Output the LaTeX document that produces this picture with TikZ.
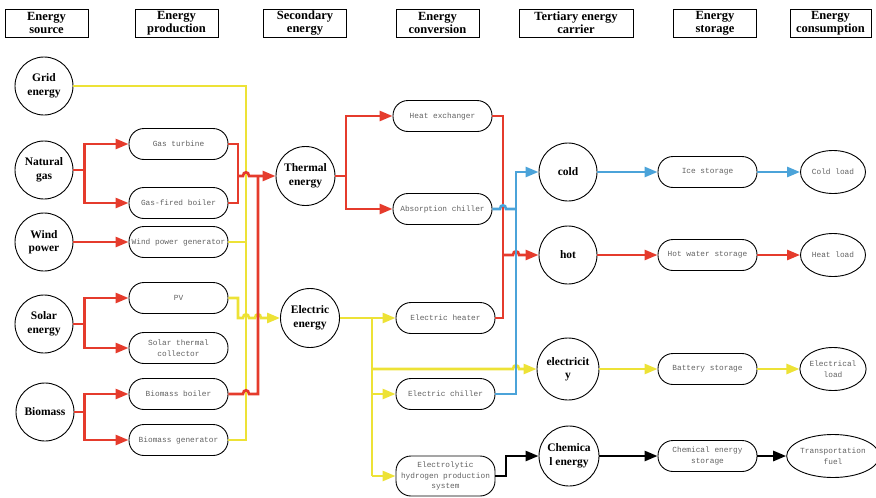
\documentclass[tikz,border=0pt]{standalone}
\usepackage{fontspec}
\setmainfont{Liberation Serif}
\newfontfamily\boxfont{Liberation Mono}
\usetikzlibrary{arrows.meta,shapes.geometric}
\definecolor{cred}{HTML}{E53B2C}
\definecolor{cyel}{HTML}{EDE236}
\definecolor{cblu}{HTML}{4BA3D9}
\begin{document}
\begin{tikzpicture}[x=1pt,y=-1pt,
  hdr/.style={draw, line width=0.8pt, minimum width=83pt, minimum height=28pt, inner sep=0pt,
    font=\fontsize{12.5}{13}\selectfont\bfseries, align=center},
  circ/.style={draw, circle, line width=0.9pt, minimum size=58pt, inner sep=0pt,
    font=\fontsize{11.5}{13.5}\selectfont\bfseries, align=center},
  rbox/.style={draw, rounded corners=15pt, line width=0.9pt, minimum width=99pt, minimum height=31pt,
    inner sep=1pt, font=\boxfont\fontsize{7.8}{10.5}\selectfont, text=black!62, align=center},
  ell/.style={draw, ellipse, line width=0.9pt, minimum width=65pt, minimum height=43pt, inner sep=0pt,
    font=\boxfont\fontsize{7.8}{10.5}\selectfont, text=black!62, align=center},
  tip/.style={-{Triangle[length=13pt,width=10pt]}},
  rl/.style={draw=cred, line width=2.6pt},
  yl/.style={draw=cyel, line width=2.6pt},
  bl/.style={draw=cblu, line width=2.6pt},
  kl/.style={draw=black, line width=2.6pt},
]
\useasboundingbox (0,0) rectangle (876,498);
% headers
\node[hdr] (h1) at (46.5,23) {Energy\\source};
\node[hdr] (h2) at (176.5,23) {Energy\\production};
\node[hdr] (h3) at (305,23) {Secondary\\energy};
\node[hdr] (h4) at (437.5,23) {Energy\\conversion};
\node[hdr, minimum width=114pt] (h5) at (576,23) {Tertiary energy\\carrier};
\node[hdr] (h6) at (715,23) {Energy\\storage};
\node[hdr, minimum width=81pt] (h7) at (830.5,23) {Energy\\consumption};
% sources
\node[circ] (grid) at (44,86) {Grid\\energy};
\node[circ] (ng) at (44,170) {Natural\\gas};
\node[circ] (wind) at (44,242) {Wind\\power};
\node[circ] (solar) at (44,324) {Solar\\energy};
\node[circ] (bio) at (45,412) {Biomass};
% production
\node[rbox] (gt) at (178.5,144) {Gas turbine};
\node[rbox] (gfb) at (178.5,203) {Gas-fired boiler};
\node[rbox] (wpg) at (178.5,242) {Wind power generator};
\node[rbox] (pv) at (178.5,298) {PV};
\node[rbox] (stc) at (178.5,348) {Solar thermal\\collector};
\node[rbox] (bb) at (178.5,394) {Biomass boiler};
\node[rbox] (bg) at (178.5,440) {Biomass generator};
% secondary
\node[circ, minimum size=59pt] (th) at (305.5,176) {Thermal\\energy};
\node[circ, minimum size=59pt] (ee) at (310,318) {Electric\\energy};
% conversion
\node[rbox] (hx) at (442.5,116) {Heat exchanger};
\node[rbox] (ac) at (442.5,209) {Absorption chiller};
\node[rbox] (eh) at (445.5,318) {Electric heater};
\node[rbox] (ec) at (445.5,394) {Electric chiller};
\node[rbox, minimum height=40pt] (ely) at (445.5,476) {Electrolytic\\hydrogen production\\system};
% tertiary
\node[circ] (cold) at (568,172) {cold};
\node[circ] (hot) at (568,255) {hot};
\node[circ, minimum size=62pt] (elec) at (568,369) {electricit\\y};
\node[circ, minimum size=60pt] (chem) at (569,456) {Chemica\\l energy};
% storage
\node[rbox] (ice) at (707.5,172) {Ice storage};
\node[rbox] (hws) at (707.5,255) {Hot water storage};
\node[rbox] (bat) at (707.5,369) {Battery storage};
\node[rbox] (ces) at (707.5,456) {Chemical energy\\storage};
% consumption
\node[ell] (cl) at (833,172) {Cold load};
\node[ell] (hl) at (833,255) {Heat load};
\node[ell] (el) at (833,369) {Electrical\\load};
\node[ell, minimum width=82pt] (tf) at (833,456) {Transportation\\fuel};

% ---- yellow
\draw[yl] (grid.east) -| (246,440) -- (bg.east);
\draw[yl] (wpg.east) -- (246,242);
\draw[yl,tip] (pv.east) -| (238,318) -- (243,318) .. controls (243,313) and (249,313) .. (249,318)
  -- (255,318) .. controls (255,313) and (261,313) .. (261,318) -- (ee.west);
\draw[yl,tip] (ee.east) -- (eh.west);
\draw[yl] (372,318) -- (372,476);
\draw[yl,tip] (372,369) -- (513,369) .. controls (513,364) and (519,364) .. (519,369) -- (elec.west);
\draw[yl,tip] (372,394) -- (ec.west);
\draw[yl,tip] (372,476) -- (ely.west);
\draw[yl,tip] (elec.east) -- (bat.west);
\draw[yl,tip] (bat.east) -- (el.west);

% ---- red
\draw[rl,tip] (ng.east) -- ++(11,0) |- (gt.west);
\draw[rl,tip] (ng.east) -- ++(11,0) |- (gfb.west);
\draw[rl] (gt.east) -| (238,203) -- (gfb.east);
\draw[rl,tip] (238,176) -- (243,176) .. controls (243,171) and (249,171) .. (249,176) -- (th.west);
\draw[rl] (bb.east) -- (243,394) .. controls (243,389) and (249,389) .. (249,394) -- (258,394) -- (258,176);
\draw[rl,tip] (wind.east) -- (wpg.west);
\draw[rl,tip] (solar.east) -- ++(11,0) |- (pv.west);
\draw[rl,tip] (solar.east) -- ++(11,0) |- (stc.west);
\draw[rl,tip] (bio.east) -- ++(10,0) |- (bb.west);
\draw[rl,tip] (bio.east) -- ++(10,0) |- (bg.west);
\draw[rl,tip] (th.east) -- (346,176) |- (hx.west);
\draw[rl,tip] (346,176) |- (ac.west);
\draw[rl] (hx.east) -| (503,318) -- (eh.east);
\draw[rl,tip] (503,255) -- (513,255) .. controls (513,250) and (519,250) .. (519,255) -- (hot.west);
\draw[rl,tip] (hot.east) -- (hws.west);
\draw[rl,tip] (hws.east) -- (hl.west);

% ---- blue
\draw[bl] (ac.east) -- (500,209) .. controls (500,204) and (506,204) .. (506,209) -- (516,209);
\draw[bl,tip] (ec.east) -- (516,394) -- (516,172) -- (cold.west);
\draw[bl,tip] (cold.east) -- (ice.west);
\draw[bl,tip] (ice.east) -- (cl.west);

% ---- black
\draw[kl,tip] (ely.east) -- (506,476) -- (506,456) -- (chem.west);
\draw[kl,tip] (chem.east) -- (ces.west);
\draw[kl,tip] (ces.east) -- (tf.west);
\end{tikzpicture}
\end{document}
